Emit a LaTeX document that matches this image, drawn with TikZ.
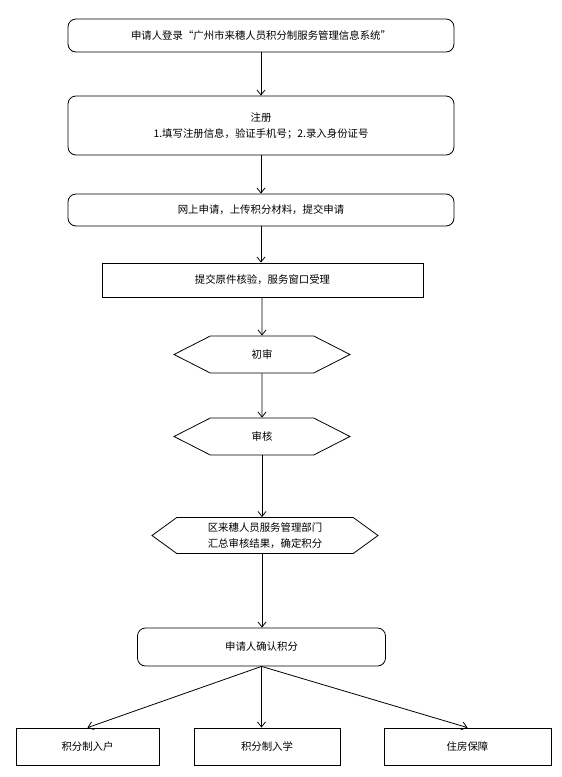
\documentclass[tikz,border=0pt]{standalone}
\usepackage{fontspec}
\setmainfont{Noto Sans CJK SC}
\usetikzlibrary{arrows.meta,shapes.symbols}
\tikzset{
  flow/.style={draw, line width=0.8pt, font=\fontsize{10.4}{16}\selectfont, align=center, inner sep=0pt},
  roundbox/.style={flow, rounded corners=8pt},
  plainbox/.style={flow},
  hexbox/.style={flow, shape=signal, signal to=west and east},
  link/.style={line width=0.8pt, -{Straight Barb[length=5pt,width=8pt]}}
}
\begin{document}
\begin{tikzpicture}[x=1pt,y=-1pt]
\useasboundingbox (0,0) rectangle (562,777);
% steps of the flow
\node[roundbox, minimum width=386, minimum height=33] (login) at (261,35.5) {申请人登录“广州市来穗人员积分制服务管理信息系统”};
\node[roundbox, minimum width=386, minimum height=59] (register) at (261,125.5) {注册\\1.填写注册信息，验证手机号；2.录入身份证号};
\node[roundbox, minimum width=386, minimum height=32] (apply) at (261,210) {网上申请，上传积分材料，提交申请};
\node[plainbox, minimum width=321, minimum height=34] (check) at (262.5,280) {提交原件核验，服务窗口受理};
% review steps
\node[hexbox, minimum width=176, minimum height=37, signal pointer angle=54] (first) at (262,354.5) {初审};
\node[hexbox, minimum width=176, minimum height=37, signal pointer angle=54] (audit) at (262,436.5) {审核};
\node[hexbox, minimum width=226, minimum height=36, signal pointer angle=72] (summary) at (265,535.5) {区来穗人员服务管理部门\\汇总审核结果，确定积分};
\node[roundbox, minimum width=248, minimum height=38] (confirm) at (261.5,647) {申请人确认积分};
% results
\node[plainbox, minimum width=143, minimum height=37] (house) at (87.5,746.5) {积分制入户};
\node[plainbox, minimum width=146, minimum height=37] (school) at (267,746.5) {积分制入学};
\node[plainbox, minimum width=167, minimum height=37] (housing) at (467.5,746.5) {住房保障};
% arrows
\draw[link] (login) -- (register);
\draw[link] (register) -- (apply);
\draw[link] (apply) -- (apply |- check.north);
\draw[link] (check.south -| first) -- (first);
\draw[link] (first) -- (audit);
\draw[link] (audit.south) -- (audit.south |- summary.north);
\draw[link] (summary.south -| audit) -- (confirm.north -| audit);
\draw[link] (confirm.south) -- (house.north);
\draw[link] (confirm.south) -- (confirm.south |- school.north);
\draw[link] (confirm.south) -- (housing.north);
\end{tikzpicture}
\end{document}
